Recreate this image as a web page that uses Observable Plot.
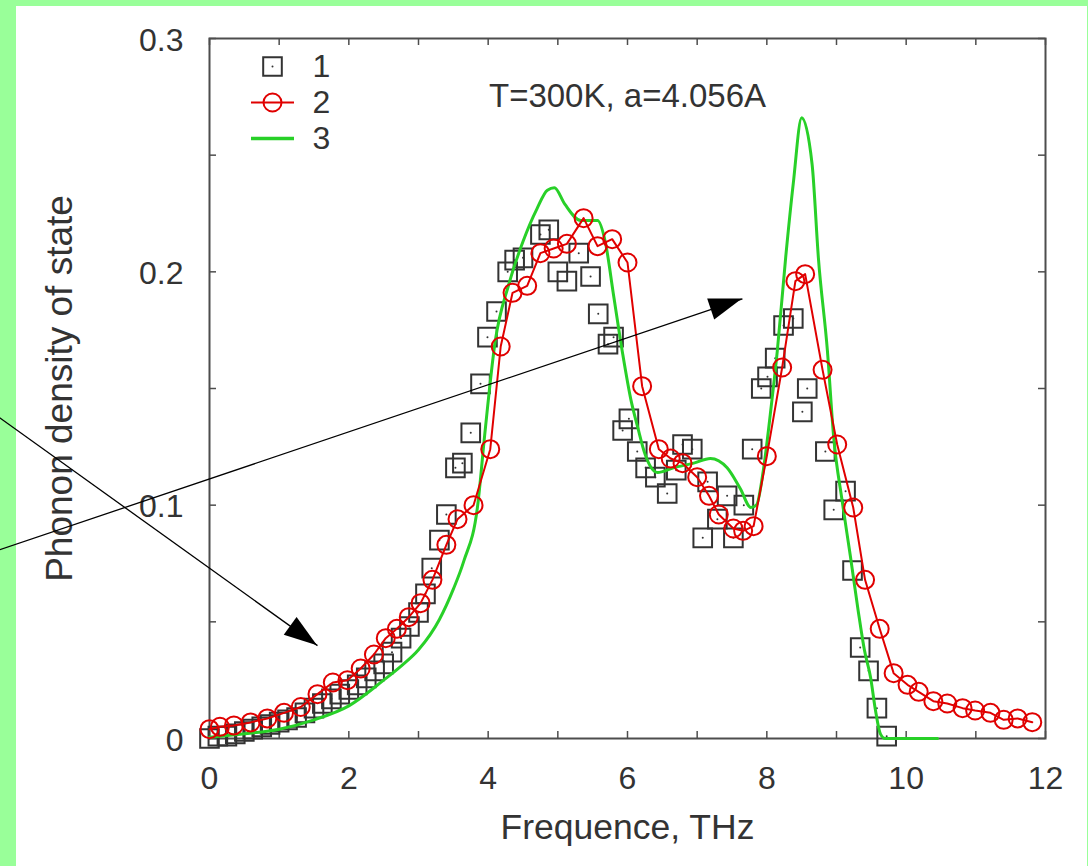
<!DOCTYPE html>
<html><head><meta charset="utf-8">
<script src="https://cdn.jsdelivr.net/npm/d3@7"></script>
<script src="https://cdn.jsdelivr.net/npm/@observablehq/plot@0.6"></script>
<style>
html,body{margin:0;padding:0;width:1088px;height:866px;overflow:hidden;background:#99ff99;}
#panel{position:absolute;left:16px;top:6px;width:1071px;height:860px;background:#fff;}
#chart{position:absolute;left:0;top:0;}
</style></head><body><div id="panel"></div><div id="chart"></div>
<script>
// ---- data ----
const freq1 = [0.00,0.12,0.25,0.37,0.50,0.62,0.75,0.87,1.00,1.12,1.25,1.37,1.50,1.62,1.75,1.87,2.00,2.12,2.25,2.37,2.50,2.62,2.75,2.87,3.00,3.10,3.19,3.30,3.40,3.53,3.63,3.75,3.89,3.99,4.12,4.28,4.38,4.50,4.75,4.87,5.00,5.13,5.30,5.47,5.58,5.72,5.80,5.93,6.02,6.14,6.26,6.40,6.57,6.70,6.79,6.93,7.08,7.15,7.29,7.43,7.52,7.67,7.79,7.92,8.01,8.12,8.24,8.38,8.51,8.58,8.84,8.96,9.13,9.23,9.34,9.46,9.58,9.72];
const dos1  = [0.000,0.001,0.001,0.002,0.003,0.004,0.005,0.006,0.007,0.008,0.009,0.011,0.013,0.015,0.017,0.019,0.021,0.023,0.026,0.029,0.032,0.037,0.043,0.048,0.054,0.062,0.073,0.085,0.096,0.116,0.118,0.131,0.152,0.172,0.183,0.200,0.205,0.206,0.216,0.218,0.200,0.196,0.208,0.198,0.182,0.169,0.172,0.132,0.137,0.123,0.116,0.112,0.105,0.115,0.126,0.124,0.086,0.110,0.094,0.104,0.086,0.100,0.124,0.150,0.155,0.163,0.177,0.180,0.140,0.150,0.123,0.098,0.106,0.072,0.039,0.029,0.013,0.001];

const freq2 = [0.00,0.15,0.35,0.59,0.83,1.07,1.31,1.55,1.77,1.98,2.17,2.36,2.53,2.69,2.86,3.03,3.20,3.40,3.56,3.79,4.03,4.18,4.35,4.56,4.75,4.94,5.13,5.37,5.57,5.78,6.00,6.21,6.45,6.62,6.79,7.00,7.17,7.31,7.52,7.66,7.81,8.00,8.22,8.41,8.55,8.80,9.01,9.24,9.41,9.62,9.82,10.02,10.18,10.39,10.59,10.81,10.99,11.21,11.40,11.60,11.81];
const dos2  = [0.004,0.005,0.0056,0.0069,0.0086,0.011,0.0135,0.019,0.024,0.025,0.030,0.036,0.043,0.047,0.052,0.058,0.068,0.083,0.094,0.100,0.124,0.168,0.191,0.194,0.208,0.210,0.212,0.223,0.211,0.214,0.204,0.151,0.124,0.120,0.118,0.112,0.104,0.096,0.090,0.089,0.091,0.121,0.159,0.196,0.199,0.158,0.126,0.099,0.068,0.047,0.028,0.023,0.020,0.016,0.015,0.013,0.012,0.011,0.008,0.0086,0.007];

const freq3 = [0.00,0.50,1.00,1.50,2.00,2.50,2.75,3.00,3.30,3.50,3.65,3.85,3.95,4.10,4.30,4.50,4.70,4.85,4.95,5.10,5.33,5.57,5.68,5.80,5.93,6.05,6.15,6.25,6.43,6.66,6.95,7.19,7.43,7.62,7.77,7.85,7.95,8.05,8.15,8.27,8.38,8.50,8.65,8.74,8.87,8.96,9.08,9.20,9.31,9.40,9.49,9.56,9.63,9.70,10.45];
const dos3  = [0.0005,0.002,0.004,0.008,0.014,0.025,0.031,0.038,0.051,0.064,0.076,0.100,0.130,0.170,0.195,0.213,0.227,0.235,0.236,0.229,0.222,0.222,0.213,0.190,0.165,0.145,0.133,0.122,0.114,0.116,0.118,0.120,0.116,0.107,0.099,0.100,0.115,0.139,0.166,0.206,0.238,0.266,0.246,0.206,0.166,0.129,0.102,0.078,0.055,0.038,0.026,0.012,0.002,0,0];

const xTicks = [0,1,2,3,4,5,6,7,8,9,10,11,12];
const xLabels = [0,2,4,6,8,10,12];
const yTicks = [0,0.05,0.1,0.15,0.2,0.25,0.3];
const yLabels = [0,0.1,0.2,0.3];
const seriesNames = ["1","2","3"];
const annotation = "T=300K, a=4.056A";
const xTitle = "Frequence, THz";
const yTitle = "Phonon density of state";
// arrows (data coordinates): start -> tip
const arrowX1 = [-3.05,-3.05];
const arrowY1 = [0.0805,0.1383];
const arrowX2 = [7.65,1.55];
const arrowY2 = [0.1884,0.0398];

// ---- tables ----
const s1 = freq1.map((x,i)=>({x, y: dos1[i]}));
const s2 = freq2.map((x,i)=>({x, y: dos2[i]}));
const s3 = freq3.map((x,i)=>({x, y: dos3[i]}));
const arrows = arrowX1.map((x1,i)=>({x1, y1: arrowY1[i], x2: arrowX2[i], y2: arrowY2[i]}));

const BLACK = "#333333", RED = "#e00000", GREEN = "#28d028", AX = "#4d4d4d";
const FONT = "'Liberation Sans', Arial, Helvetica, sans-serif";
const W = 1088, H = 866, ML = 209, MR = 43, MT = 38, MB = 128;
const FW = W - ML - MR, FH = H - MT - MB;

const lineSym = {draw(ctx){ ctx.moveTo(-21.5,0); ctx.lineTo(21.5,0); }};

const chart = Plot.plot({
  width: W, height: H,
  marginLeft: ML, marginRight: MR, marginTop: MT, marginBottom: MB,
  x: {domain: [0,12], axis: null},
  y: {domain: [0,0.3], axis: null},
  style: {background: "transparent", fontFamily: FONT, overflow: "visible", color: BLACK},
  marks: [
    // frame
    Plot.frame({stroke: AX, strokeWidth: 2}),
    // ticks inward on all sides
    Plot.ruleX(xTicks, {x: d=>d, insetTop: FH-7, stroke: AX, strokeWidth: 1.5}),
    Plot.ruleX(xTicks, {x: d=>d, insetBottom: FH-7, stroke: AX, strokeWidth: 1.5}),
    Plot.ruleY(yTicks, {y: d=>d, insetRight: FW-7, stroke: AX, strokeWidth: 1.5}),
    Plot.ruleY(yTicks, {y: d=>d, insetLeft: FW-7, stroke: AX, strokeWidth: 1.5}),
    // tick labels
    Plot.text(xLabels, {x: d=>d, frameAnchor: "bottom", dy: 40, text: d=>String(d), fontSize: 32, lineAnchor: "middle", fill: BLACK}),
    Plot.text(yLabels, {y: d=>d, frameAnchor: "left", dx: -26, dy: 2, text: d=>String(d), fontSize: 32, textAnchor: "end", lineAnchor: "middle", fill: BLACK}),
    // axis titles
    Plot.text([xTitle], {frameAnchor: "bottom", dy: 89, text: d=>d, fontSize: 35.5, textAnchor: "middle", lineAnchor: "middle", fill: BLACK}),
    Plot.text([yTitle], {frameAnchor: "left", dx: -149, text: d=>d, fontSize: 37, rotate: -90, textAnchor: "middle", lineAnchor: "middle", fill: BLACK}),
    // series 1: squares
    Plot.dot(s1, {x: "x", y: "y", symbol: "square", r: 10.5, stroke: BLACK, strokeWidth: 2, fill: "none"}),
    Plot.dot(s1, {x: "x", y: "y", r: 1, fill: BLACK}),
    // series 3: green curve
    Plot.line(s3, {x: "x", y: "y", stroke: GREEN, strokeWidth: 3, curve: "monotone-x"}),
    // series 2: red line + circles
    Plot.line(s2, {x: "x", y: "y", stroke: RED, strokeWidth: 2}),
    Plot.dot(s2, {x: "x", y: "y", r: 9, stroke: RED, strokeWidth: 2, fill: "none"}),
    // legend
    Plot.dot([seriesNames[0]], {frameAnchor: "top-left", dx: 63, dy: 28, symbol: "square", r: 10.5, stroke: BLACK, strokeWidth: 2, fill: "none"}),
    Plot.dot([seriesNames[0]], {frameAnchor: "top-left", dx: 63, dy: 28, r: 1, fill: BLACK}),
    Plot.dot([seriesNames[1]], {frameAnchor: "top-left", dx: 63, dy: 64, symbol: lineSym, stroke: RED, strokeWidth: 2, fill: "none"}),
    Plot.dot([seriesNames[1]], {frameAnchor: "top-left", dx: 63, dy: 64, r: 9, stroke: RED, strokeWidth: 2, fill: "none"}),
    Plot.dot([seriesNames[2]], {frameAnchor: "top-left", dx: 63, dy: 100, symbol: lineSym, stroke: GREEN, strokeWidth: 3.5, fill: "none"}),
    Plot.text([seriesNames[0]], {frameAnchor: "top-left", dx: 103, dy: 28, text: d=>d, fontSize: 32, textAnchor: "start", lineAnchor: "middle", fill: BLACK}),
    Plot.text([seriesNames[1]], {frameAnchor: "top-left", dx: 103, dy: 64, text: d=>d, fontSize: 32, textAnchor: "start", lineAnchor: "middle", fill: BLACK}),
    Plot.text([seriesNames[2]], {frameAnchor: "top-left", dx: 103, dy: 100, text: d=>d, fontSize: 32, textAnchor: "start", lineAnchor: "middle", fill: BLACK}),
    // annotation
    Plot.text([annotation], {frameAnchor: "top", dx: 0, dy: 58, text: d=>d, fontSize: 33, textAnchor: "middle", lineAnchor: "middle", fill: BLACK}),
    // arrows (lines)
    Plot.link(arrows, {x1: "x1", y1: "y1", x2: "x2", y2: "y2", stroke: "#000", strokeWidth: 1.3})
  ]
});

// arrowheads computed through the chart's own scales
const sx = chart.scale("x"), sy = chart.scale("y");
const g = d3.select(chart).append("g");
arrows.forEach(a => {
  const ax = sx.apply(a.x1), ay = sy.apply(a.y1);
  const tx = sx.apply(a.x2), ty = sy.apply(a.y2);
  const L = Math.hypot(tx-ax, ty-ay), ux = (tx-ax)/L, uy = (ty-ay)/L;
  const len = 33, hw = 11;
  const bx = tx - ux*len, by = ty - uy*len;
  const p = [[tx,ty],[bx - uy*hw, by + ux*hw],[bx + uy*hw, by - ux*hw]];
  g.append("path").attr("d", "M" + p.map(q=>q.join(",")).join("L") + "Z").attr("fill","#000");
});

document.getElementById("chart").appendChild(chart);
</script></body></html>
